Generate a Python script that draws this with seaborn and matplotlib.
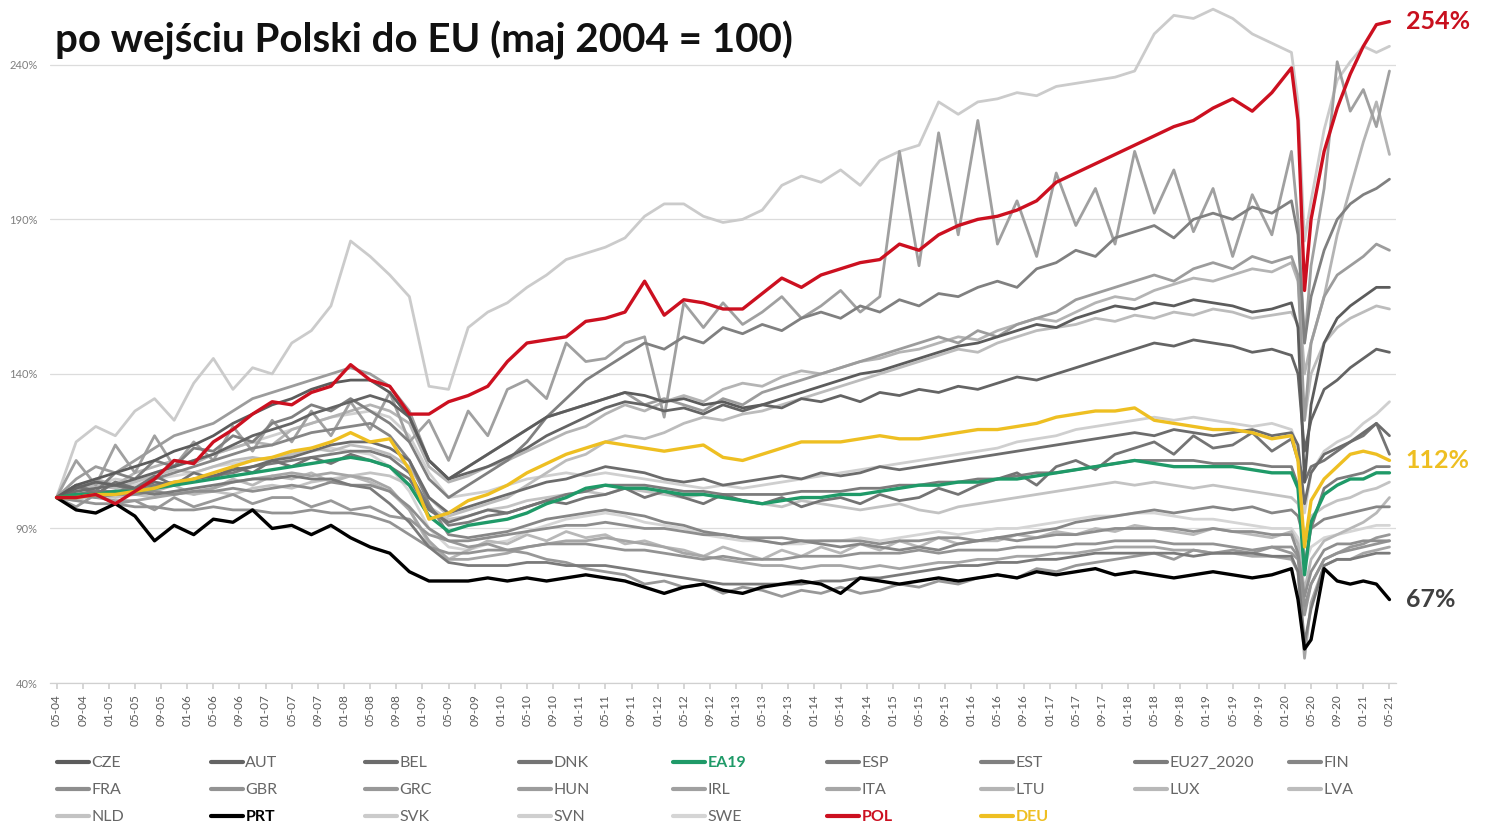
import matplotlib
matplotlib.use("Agg")
import matplotlib.pyplot as plt
import seaborn as sns
import pandas as pd
from matplotlib.lines import Line2D

# ---------------- data (index: May 2004 = 100) ----------------
# month offsets from 05-2004: quarterly until 02-2020, then denser through the COVID dip
MONTHS = list(range(0, 190, 3)) + [190, 191, 192, 194, 196, 198, 200, 202, 204]

POL = [100, 100, 101, 98, 102, 106, 112, 111, 118, 122, 127, 131, 130, 134, 136, 143,
       138, 136, 127, 127, 131, 133, 136, 144, 150, 151, 152, 157, 158, 160, 170, 159,
       164, 163, 161, 161, 166, 171, 168, 172, 174, 176, 177, 182, 180, 185, 188, 190,
       191, 193, 196, 202, 205, 208, 211, 214, 217, 220, 222, 226, 229, 225, 231, 239,
       222, 167, 190, 212, 226, 237, 246, 253, 254]
DEU = [100, 100, 101, 101, 102, 103, 105, 106, 108, 110, 112, 113, 115, 116, 118, 121,
       118, 119, 109, 93, 95, 99, 101, 104, 108, 111, 114, 116, 118, 117, 116, 115,
       116, 117, 113, 112, 114, 116, 118, 118, 118, 119, 120, 119, 119, 120, 121, 122,
       122, 123, 124, 126, 127, 128, 128, 129, 125, 124, 123, 122, 122, 121, 119, 120,
       112, 84, 99, 106, 110, 114, 115, 114, 112]
EA19 = [100, 101, 101, 102, 102, 103, 104, 105, 106, 107, 108, 109, 110, 111, 112, 113,
        112, 110, 104, 94, 89, 91, 92, 93, 95, 98, 100, 103, 104, 103, 103, 102,
        101, 101, 100, 99, 98, 99, 100, 100, 101, 101, 102, 103, 104, 104, 105, 105,
        106, 106, 107, 108, 109, 110, 111, 112, 111, 110, 110, 110, 110, 109, 108, 108,
        103, 75, 92, 101, 104, 106, 106, 108, 108]
PRT = [100, 96, 95, 98, 94, 86, 91, 88, 93, 92, 96, 90, 91, 88, 91, 87,
       84, 82, 76, 73, 73, 73, 74, 73, 74, 73, 74, 75, 74, 73, 71, 69,
       71, 72, 70, 69, 71, 72, 73, 72, 69, 74, 73, 72, 73, 74, 73, 74,
       75, 74, 76, 75, 76, 77, 75, 76, 75, 74, 75, 76, 75, 74, 75, 77,
       67, 51, 54, 77, 73, 72, 73, 72, 67]
SVK = [100, 118, 123, 120, 128, 132, 125, 137, 145, 135, 142, 140, 150, 154, 162, 183,
       178, 172, 165, 136, 135, 155, 160, 163, 168, 172, 177, 179, 181, 184, 191, 195,
       195, 191, 189, 190, 193, 201, 204, 202, 206, 201, 209, 212, 214, 228, 224, 228,
       229, 231, 230, 233, 234, 235, 236, 238, 250, 256, 255, 258, 255, 250, 247, 244,
       228, 183, 196, 219, 235, 241, 246, 244, 246]
IRL = [100, 112, 104, 117, 108, 120, 110, 118, 112, 123, 115, 125, 118, 128, 120, 131,
       122, 134, 118, 125, 112, 128, 120, 135, 138, 132, 150, 144, 145, 150, 152, 126,
       163, 155, 163, 156, 160, 165, 158, 162, 167, 160, 165, 212, 175, 218, 185, 222,
       182, 196, 178, 205, 188, 200, 182, 212, 192, 206, 186, 200, 178, 198, 185, 212,
       190, 150, 175, 200, 241, 225, 232, 220, 238]
LTU = [100, 103, 106, 104, 108, 110, 112, 111, 114, 116, 118, 117, 122, 124, 126, 128,
       130, 128, 124, 110, 105, 107, 110, 112, 115, 118, 121, 123, 127, 130, 128, 131,
       133, 131, 135, 137, 136, 139, 141, 140, 142, 144, 145, 147, 148, 150, 152, 151,
       154, 156, 158, 157, 160, 163, 165, 164, 167, 169, 171, 170, 172, 174, 173, 176,
       170, 140, 150, 165, 185, 200, 215, 228, 211]
EST = [100, 104, 102, 108, 106, 112, 110, 116, 115, 120, 118, 124, 126, 130, 128, 132,
       128, 124, 118, 106, 100, 104, 108, 112, 118, 126, 132, 138, 142, 146, 150, 148,
       152, 150, 155, 153, 156, 154, 158, 160, 158, 162, 160, 164, 162, 166, 165, 168,
       170, 168, 174, 176, 180, 178, 184, 186, 188, 184, 190, 192, 190, 194, 192, 196,
       185, 150, 165, 180, 190, 195, 198, 200, 203]
HUN = [100, 106, 110, 108, 112, 116, 120, 122, 124, 128, 132, 134, 136, 138, 140, 142,
       140, 136, 128, 112, 106, 110, 114, 118, 122, 126, 128, 130, 132, 134, 130, 132,
       130, 128, 132, 130, 134, 136, 138, 140, 142, 144, 146, 148, 150, 152, 150, 154,
       152, 156, 158, 160, 164, 166, 168, 170, 172, 170, 174, 176, 174, 178, 176, 178,
       172, 125, 150, 165, 172, 175, 178, 182, 180]
CZE = [100, 104, 106, 108, 110, 112, 115, 117, 120, 124, 127, 130, 132, 135, 137, 138,
       138, 134, 126, 112, 106, 110, 114, 118, 122, 126, 128, 130, 132, 134, 133, 131,
       132, 130, 131, 129, 130, 132, 134, 136, 138, 140, 141, 143, 145, 147, 149, 150,
       152, 154, 156, 155, 158, 160, 162, 161, 163, 162, 164, 163, 162, 160, 161, 163,
       155, 105, 130, 150, 158, 162, 165, 168, 168]
LVA = [100, 102, 104, 103, 105, 107, 109, 108, 110, 112, 113, 112, 114, 116, 115, 117,
       116, 114, 110, 100, 94, 96, 98, 100, 104, 108, 112, 114, 118, 120, 119, 121,
       124, 126, 125, 127, 128, 130, 132, 134, 136, 138, 140, 142, 144, 146, 148, 147,
       150, 152, 154, 155, 156, 158, 157, 159, 158, 160, 159, 161, 160, 158, 159, 160,
       156, 125, 140, 150, 155, 158, 160, 162, 161]
AUT = [100, 103, 105, 104, 106, 108, 110, 112, 114, 117, 120, 122, 124, 127, 129, 131,
       133, 131, 126, 112, 106, 108, 110, 113, 116, 120, 123, 126, 129, 131, 130, 128,
       129, 127, 130, 128, 130, 129, 132, 131, 133, 131, 134, 133, 135, 134, 136, 135,
       137, 139, 138, 140, 142, 144, 146, 148, 150, 149, 151, 150, 149, 147, 148, 146,
       140, 115, 125, 135, 138, 142, 145, 148, 147]
SVN = [100, 102, 104, 106, 105, 108, 110, 112, 114, 116, 118, 120, 122, 124, 126, 127,
       128, 126, 120, 108, 100, 101, 102, 104, 106, 107, 108, 107, 108, 107, 106, 105,
       104, 103, 104, 103, 104, 105, 106, 107, 108, 109, 110, 111, 112, 113, 114, 115,
       116, 118, 119, 120, 122, 123, 124, 125, 126, 125, 126, 125, 124, 123, 124, 122,
       116, 95, 108, 115, 118, 120, 124, 127, 131]
BEL = [100, 102, 103, 104, 103, 105, 104, 106, 107, 109, 110, 112, 113, 115, 117, 118,
       118, 116, 112, 100, 95, 97, 99, 101, 103, 105, 106, 108, 110, 109, 108, 106,
       105, 106, 104, 105, 106, 107, 106, 108, 107, 108, 110, 109, 110, 111, 112, 113,
       114, 115, 116, 117, 118, 119, 120, 121, 120, 122, 121, 120, 121, 122, 120, 121,
       117, 98, 108, 114, 116, 118, 121, 124, 120]
DNK = [100, 104, 101, 105, 103, 107, 104, 108, 106, 110, 108, 112, 110, 113, 111, 114,
       112, 110, 106, 96, 92, 94, 96, 95, 97, 99, 98, 100, 101, 103, 100, 102,
       100, 98, 101, 99, 98, 100, 97, 99, 100, 98, 101, 99, 100, 103, 101, 104,
       106, 108, 104, 110, 112, 109, 114, 116, 118, 114, 120, 116, 117, 121, 115, 119,
       112, 105, 110, 112, 115, 118, 120, 124, 114]
EU27_2020 = [100, 101, 102, 102, 103, 104, 105, 106, 107, 108, 110, 111, 112, 113, 114, 115,
             115, 113, 108, 97, 91, 92, 94, 95, 97, 99, 101, 102, 104, 104, 104, 103,
             102, 102, 101, 101, 101, 101, 102, 102, 102, 103, 103, 104, 104, 105, 105, 106,
             106, 107, 108, 108, 109, 110, 111, 112, 112, 112, 112, 111, 111, 111, 110, 110,
             104, 78, 90, 103, 106, 107, 108, 110, 110]
NLD = [100, 99, 101, 100, 101, 100, 102, 101, 102, 101, 103, 104, 103, 105, 106, 107,
       108, 107, 104, 97, 93, 94, 96, 97, 99, 100, 101, 102, 101, 103, 102, 101,
       100, 101, 100, 99, 98, 97, 99, 98, 97, 96, 97, 98, 96, 95, 97, 98,
       99, 100, 101, 102, 103, 104, 105, 104, 105, 104, 103, 104, 103, 102, 101, 100,
       98, 88, 94, 97, 99, 100, 102, 103, 105]
FIN = [100, 103, 105, 104, 102, 106, 108, 110, 112, 114, 116, 117, 119, 121, 122, 123,
       124, 120, 112, 98, 88, 87, 88, 89, 91, 93, 94, 95, 96, 95, 94, 92,
       91, 89, 88, 87, 86, 85, 86, 85, 84, 85, 84, 83, 84, 83, 85, 86,
       87, 88, 89, 90, 92, 93, 94, 95, 96, 95, 96, 97, 96, 97, 95, 96,
       94, 86, 90, 93, 94, 95, 96, 97, 97]
SWE = [100, 102, 104, 103, 104, 106, 107, 108, 110, 111, 112, 113, 114, 115, 116, 115,
       114, 110, 102, 90, 84, 83, 85, 86, 89, 91, 93, 94, 95, 94, 92, 91,
       90, 88, 87, 86, 86, 85, 85, 86, 86, 87, 86, 87, 88, 89, 88, 89,
       90, 90, 91, 92, 93, 94, 94, 95, 95, 94, 93, 93, 92, 91, 90, 90,
       87, 78, 84, 87, 88, 89, 90, 91, 91]
FRA = [100, 101, 100, 101, 101, 102, 101, 102, 102, 103, 102, 103, 104, 103, 105, 104,
       104, 102, 97, 90, 86, 86, 87, 88, 89, 90, 91, 91, 92, 91, 90, 90,
       89, 88, 88, 87, 87, 87, 86, 86, 86, 86, 85, 86, 86, 87, 87, 86,
       87, 86, 87, 88, 88, 89, 90, 90, 90, 90, 89, 90, 89, 89, 88, 88,
       82, 68, 76, 83, 85, 85, 86, 86, 86]
ITA = [100, 101, 100, 99, 99, 100, 101, 102, 103, 105, 106, 107, 108, 107, 108, 107,
       106, 103, 96, 86, 80, 80, 81, 82, 84, 85, 86, 86, 87, 86, 85, 84,
       82, 81, 80, 79, 78, 78, 77, 78, 78, 77, 78, 77, 78, 79, 79, 80,
       80, 81, 81, 82, 82, 83, 84, 84, 84, 83, 83, 82, 82, 81, 81, 80,
       76, 48, 66, 78, 80, 80, 82, 83, 84]
ESP = [100, 101, 102, 101, 102, 101, 102, 103, 104, 105, 106, 106, 107, 106, 106, 104,
       103, 98, 92, 84, 79, 78, 78, 78, 79, 79, 78, 78, 78, 77, 76, 75,
       74, 73, 72, 72, 72, 72, 72, 73, 73, 74, 74, 75, 76, 77, 78, 78,
       79, 79, 80, 80, 81, 82, 82, 82, 82, 82, 81, 82, 82, 82, 81, 81,
       76, 53, 64, 78, 80, 80, 81, 82, 82]
GRC = [100, 97, 101, 98, 99, 96, 100, 97, 99, 101, 98, 100, 100, 97, 99, 96,
       97, 94, 93, 88, 86, 84, 85, 83, 82, 80, 79, 77, 76, 75, 72, 73,
       71, 72, 69, 71, 70, 68, 70, 69, 71, 69, 70, 72, 71, 73, 72, 74,
       75, 74, 77, 76, 78, 79, 80, 81, 82, 80, 83, 82, 83, 82, 84, 82,
       80, 62, 72, 80, 82, 84, 85, 87, 88]
GBR = [100, 99, 98, 98, 97, 97, 96, 96, 97, 96, 96, 95, 95, 96, 95, 95,
       94, 92, 88, 84, 82, 82, 83, 83, 84, 85, 85, 85, 84, 83, 83, 82,
       81, 80, 81, 80, 80, 80, 81, 81, 81, 82, 82, 82, 83, 82, 83, 83,
       83, 84, 84, 84, 85, 85, 86, 86, 86, 85, 85, 85, 84, 83, 84, 84,
       81, 65, 72, 80, 82, 83, 84, 85, 86]
LUX = [100, 104, 101, 105, 103, 102, 104, 101, 103, 106, 104, 107, 106, 108, 105, 107,
       105, 102, 96, 85, 80, 83, 86, 85, 88, 86, 89, 87, 88, 85, 86, 84,
       83, 81, 84, 82, 80, 83, 81, 84, 82, 85, 83, 86, 84, 87, 85, 86,
       86, 88, 87, 89, 88, 90, 89, 91, 90, 89, 88, 90, 89, 88, 87, 89,
       85, 70, 80, 86, 88, 90, 92, 95, 100]

SERIES = {
    "CZE": CZE, "AUT": AUT, "BEL": BEL, "DNK": DNK, "EA19": EA19, "ESP": ESP,
    "EST": EST, "EU27_2020": EU27_2020, "FIN": FIN, "FRA": FRA, "GBR": GBR,
    "GRC": GRC, "HUN": HUN, "IRL": IRL, "ITA": ITA, "LTU": LTU, "LUX": LUX,
    "LVA": LVA, "NLD": NLD, "PRT": PRT, "SVK": SVK, "SVN": SVN, "SWE": SWE,
    "POL": POL, "DEU": DEU,
}
LEGEND_ORDER = list(SERIES.keys())

END_LABELS = [("POL", "254%"), ("DEU", "112%"), ("PRT", "67%")]
TITLE = "po wejściu Polski do EU (maj 2004 = 100)"

# ---------------- styling ----------------
COLORS = {
    "CZE": "#5c5c5c", "AUT": "#646464", "BEL": "#6c6c6c", "DNK": "#747474",
    "ESP": "#7a7a7a", "EST": "#808080", "EU27_2020": "#7c7c7c", "FIN": "#868686",
    "FRA": "#8e8e8e", "GBR": "#939393", "GRC": "#989898", "HUN": "#9c9c9c",
    "IRL": "#a0a0a0", "ITA": "#a6a6a6", "LTU": "#b4b4b4", "LUX": "#b8b8b8",
    "LVA": "#bcbcbc", "NLD": "#c3c3c3", "SVK": "#cbcbcb", "SVN": "#cfcfcf",
    "SWE": "#d5d5d5",
    "EA19": "#1f9a68", "PRT": "#000000", "POL": "#cc1020", "DEU": "#eebf22",
}
HIGHLIGHT = {"EA19", "PRT", "POL", "DEU"}
LABEL_COLORS = {"POL": "#c8101e", "DEU": "#eebf22", "PRT": "#404040"}

sns.set_theme(style="white")
plt.rcParams["font.family"] = ["Lato", "DejaVu Sans"]

rows = []
for name, vals in SERIES.items():
    for m, v in zip(MONTHS, vals):
        rows.append({"country": name, "month": m, "value": v})
df = pd.DataFrame(rows)

fig = plt.figure(figsize=(14.93, 8.25), dpi=100)
ax = fig.add_axes([50 / 1493, 1 - 683 / 825, (1396 - 50) / 1493, (683 - 3) / 825])

draw_order = [c for c in LEGEND_ORDER if c not in HIGHLIGHT][::-1] + ["EA19", "PRT", "DEU", "POL"]
for name in draw_order:
    sub = df[df["country"] == name]
    sns.lineplot(data=sub, x="month", y="value", ax=ax, color=COLORS[name],
                 lw=2.4 if name in HIGHLIGHT else 2.0, estimator=None,
                 errorbar=None, legend=False, sort=False)

ax.set_xlim(-1, 205)
ax.set_ylim(40, 260)
ax.set_xlabel("")
ax.set_ylabel("")

yt = [40, 90, 140, 190, 240]
ax.set_yticks(yt)
ax.set_yticklabels([f"{v}%" for v in yt], fontsize=8, color="#7f7f7f")
ax.grid(axis="y", color="#dcdcdc", lw=0.9)
ax.grid(axis="x", visible=False)

xt = list(range(0, 205, 4))
labels = []
for m in xt:
    y = 2004 + (4 + m) // 12
    mo = (4 + m) % 12 + 1
    labels.append(f"{mo:02d}-{y % 100:02d}")
ax.set_xticks(xt)
ax.set_xticklabels(labels, rotation=90, fontsize=8.5, color="#595959")
ax.tick_params(axis="x", length=4, color="#d0d0d0", pad=4, bottom=True)
ax.tick_params(axis="y", length=0, pad=9)
for s in ["left", "right", "top"]:
    ax.spines[s].set_visible(False)
ax.spines["bottom"].set_color("#d0d0d0")
ax.spines["bottom"].set_linewidth(0.9)

# end labels
for name, txt in END_LABELS:
    ax.text(206.5, SERIES[name][-1], txt, color=LABEL_COLORS[name], fontsize=18,
            fontweight="bold", ha="left", va="center", clip_on=False)

# title
fig.text(55 / 1493, 1 - 40 / 825, TITLE, fontsize=29, fontweight="bold",
         color="#111111", ha="left", va="center")

# legend: 9 fixed-width columns, filled row-wise
ncol = 9
for c in range(ncol):
    names = LEGEND_ORDER[c::ncol]
    handles = [Line2D([], [], color=COLORS[n], lw=3) for n in names]
    leg = fig.legend(handles, names, loc="upper left",
                     bbox_to_anchor=((57 + 154 * c) / 1493, 1 - 756 / 825),
                     frameon=False, fontsize=11.5, handlelength=2.0,
                     handletextpad=0.15, labelspacing=0.8, borderpad=0,
                     borderaxespad=0)
    for t, n in zip(leg.get_texts(), names):
        if n in HIGHLIGHT:
            t.set_color(COLORS[n] if n != "PRT" else "#000000")
            t.set_fontweight("bold")
        else:
            t.set_color("#666666")

fig.savefig("out.png", dpi=100)
